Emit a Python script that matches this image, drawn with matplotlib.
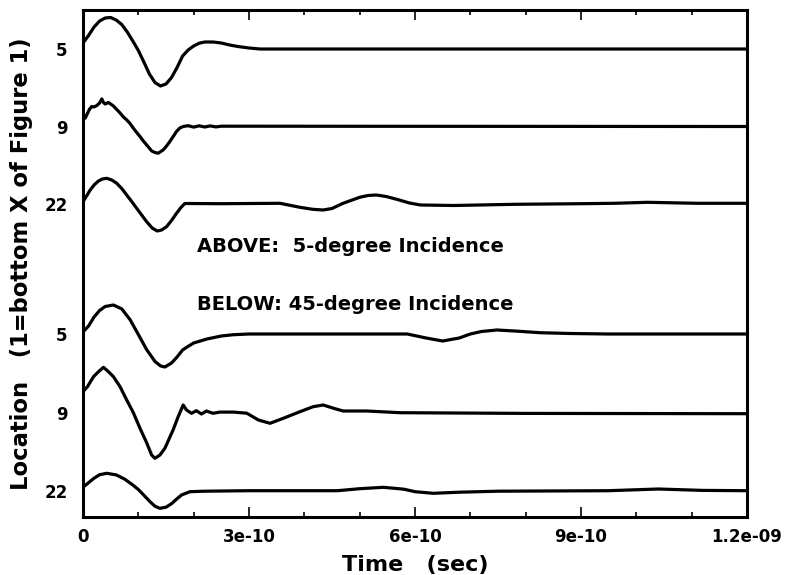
import matplotlib
matplotlib.use("Agg")
import matplotlib.pyplot as plt
from matplotlib.ticker import FixedLocator, MultipleLocator
import numpy as np

plt.rcParams['font.family'] = ['DejaVu Sans']
plt.rcParams['font.weight'] = 'bold'

# time axis unit: 1e-10 s
T_UNIT = 1e-10

# y tick labels (location numbers) and their vertical baselines (top to bottom)
loc_labels = ["5", "9", "22", "5", "9", "22"]
baselines = [468.0, 390.5, 313.0, 183.0, 104.3, 26.3]

# Trace 1: location 5, 5-degree incidence
t1 = [0.0, 0.1, 0.2, 0.3, 0.4, 0.5, 0.6, 0.7, 0.8, 0.9, 1.0, 1.1, 1.2, 1.3, 1.4,
      1.5, 1.6, 1.7, 1.8, 1.9, 2.0, 2.1, 2.2, 2.35, 2.5, 2.65, 2.8, 3.0, 3.2, 12.0]
v1 = [6.0, 13.5, 22.0, 28.0, 31.0, 31.5, 29.0, 24.5, 17.0, 8.0, -1.5, -13.0, -25.0,
      -33.5, -37.0, -35.0, -28.5, -18.5, -7.0, -1.0, 3.0, 5.8, 7.0, 7.0, 6.0, 4.0,
      2.5, 1.0, 0.0, 0.0]

# Trace 2: location 9, 5-degree incidence
t2 = [0.0, 0.04, 0.08, 0.12, 0.16, 0.2, 0.25, 0.3, 0.34, 0.37, 0.4, 0.46, 0.55,
      0.61, 0.67, 0.73, 0.79, 0.85, 0.91, 0.97, 1.03, 1.09, 1.15, 1.24, 1.3, 1.36,
      1.45, 1.51, 1.57, 1.63, 1.69, 1.75, 1.81, 1.9, 2.0, 2.1, 2.2, 2.3, 2.4, 2.5,
      12.0]
v2 = [11.6, 8.3, 13.0, 17.5, 20.0, 19.5, 21.0, 23.5, 27.6, 24.0, 22.5, 24.0, 20.5,
      17.0, 13.5, 9.5, 6.6, 3.0, -1.7, -6.0, -10.0, -14.5, -18.4, -24.4, -26.0,
      -26.7, -23.4, -19.5, -15.0, -10.0, -5.0, -1.5, 0.0, 0.8, -0.6, 0.7, -0.5,
      0.6, -0.4, 0.3, 0.0]

# Trace 3: location 22, 5-degree incidence
t3 = [0.0, 0.07, 0.13, 0.2, 0.28, 0.35, 0.43, 0.52, 0.61, 0.7, 0.79, 0.88, 0.97,
      1.06, 1.15, 1.25, 1.34, 1.42, 1.51, 1.6, 1.69, 1.77, 1.84, 2.5, 3.56, 3.92,
      4.15, 4.34, 4.5, 4.7, 5.0, 5.15, 5.3, 5.48, 5.67, 5.9, 6.1, 6.7, 7.8, 9.0,
      9.6, 10.2, 11.1, 12.0]
v3 = [2.3, 8.5, 14.0, 19.0, 23.0, 25.0, 25.7, 24.0, 20.7, 15.5, 9.0, 2.5, -4.3,
      -11.0, -17.7, -24.0, -27.0, -26.0, -22.7, -16.5, -9.3, -3.5, 0.5, 0.3, 0.7,
      -3.3, -5.3, -6.0, -4.5, 0.7, 6.7, 8.5, 9.0, 7.5, 4.7, 1.0, -1.0, -1.5, -0.3,
      0.3, 0.7, 1.7, 0.7, 0.7]

# Trace 4: location 5, 45-degree incidence
t4 = [0.0, 0.1, 0.2, 0.3, 0.4, 0.55, 0.7, 0.85, 1.0, 1.15, 1.3, 1.4, 1.48, 1.6,
      1.7, 1.8, 1.87, 2.0, 2.24, 2.5, 2.72, 3.0, 5.86, 6.2, 6.5, 6.8, 7.0, 7.2,
      7.48, 7.8, 8.26, 8.8, 9.5, 12.0]
v4 = [2.0, 8.0, 17.0, 23.5, 27.5, 29.0, 25.1, 14.4, -0.5, -15.6, -27.4, -31.9,
      -33.0, -29.0, -23.0, -16.0, -13.4, -9.0, -5.0, -2.0, -0.7, 0.0, 0.0, -4.0,
      -7.0, -4.0, 0.0, 2.5, 4.0, 3.0, 1.3, 0.5, 0.0, 0.0]

# Trace 5: location 9, 45-degree incidence
t5 = [0.0, 0.08, 0.19, 0.28, 0.37, 0.46, 0.55, 0.67, 0.79, 0.91, 1.03, 1.15, 1.24,
      1.3, 1.39, 1.48, 1.63, 1.72, 1.81, 1.87, 1.96, 2.05, 2.14, 2.23, 2.35, 2.47,
      2.72, 2.96, 3.17, 3.38, 3.62, 3.92, 4.16, 4.34, 4.53, 4.7, 5.13, 5.73, 8.0,
      12.0]
v5 = [21.0, 26.0, 36.0, 41.0, 45.4, 41.0, 36.0, 26.0, 12.7, 0.0, -15.6, -30.0,
      -42.3, -45.6, -42.3, -35.6, -17.0, -4.0, 7.7, 2.7, -0.6, 2.0, -1.3, 1.7,
      -0.6, 0.6, 0.6, -0.5, -7.3, -10.6, -5.6, 1.0, 6.0, 7.7, 4.4, 1.7, 1.7, 0.0,
      -0.7, -1.0]

# Trace 6: location 22, 45-degree incidence
t6 = [0.0, 0.1, 0.2, 0.3, 0.43, 0.6, 0.75, 0.9, 1.0, 1.1, 1.2, 1.3, 1.39, 1.5, 1.6,
      1.7, 1.78, 1.93, 2.2, 3.0, 4.6, 5.0, 5.43, 5.8, 6.0, 6.33, 6.8, 7.5, 9.5,
      10.4, 11.2, 12.0]
v6 = [3.4, 8.0, 12.5, 16.0, 17.4, 15.8, 11.7, 5.7, 1.2, -4.5, -10.4, -15.5, -17.6,
      -16.5, -13.0, -8.0, -4.3, -1.0, -0.5, 0.0, 0.0, 2.0, 3.4, 1.5, -1.0, -2.6,
      -1.5, -0.5, 0.0, 1.7, 0.3, 0.0]

traces = [(t1, v1), (t2, v2), (t3, v3), (t4, v4), (t5, v5), (t6, v6)]

xtick_vals = [0, 3e-10, 6e-10, 9e-10, 1.2e-9]
xtick_labels = ["0", "3e-10", "6e-10", "9e-10", "1.2e-09"]

fig = plt.figure(figsize=(7.92, 5.75), dpi=100)
ax = fig.add_axes([83 / 792, 1 - 517 / 575, 664 / 792, 507 / 575])

for (t, v), base in zip(traces, baselines):
    tt = np.array(t) * T_UNIT
    yy = np.array(v) + base
    ax.plot(tt, yy, color="black", lw=2.3, solid_joinstyle="round")

ax.set_xlim(0, 1.2e-9)
ax.set_ylim(0, 507)

ax.xaxis.set_major_locator(FixedLocator(xtick_vals))
ax.set_xticklabels(xtick_labels, fontsize=12, fontweight="bold")
ax.xaxis.set_minor_locator(MultipleLocator(1e-10))
ax.tick_params(axis="x", which="both", direction="in", top=True, bottom=True,
               width=1.2, pad=8)
ax.tick_params(axis="x", which="major", length=7.5)
ax.tick_params(axis="x", which="minor", length=3.8)

ax.set_yticks(baselines)
ax.set_yticklabels(loc_labels, fontsize=12, fontweight="bold")
ax.tick_params(axis="y", which="both", length=0, pad=11)

for s in ax.spines.values():
    s.set_linewidth(2.2)

ax.set_xlabel("Time   (sec)", fontsize=16, fontweight="bold", labelpad=6.5)
ax.set_ylabel("Location   (1=bottom X of Figure 1)", fontsize=16.3,
              fontweight="bold", labelpad=8)

ax.text(0.1717, 0.533, "ABOVE:  5-degree Incidence", transform=ax.transAxes,
        fontsize=14, fontweight="bold", ha="left", va="center")
ax.text(0.1717, 0.420, "BELOW: 45-degree Incidence", transform=ax.transAxes,
        fontsize=14, fontweight="bold", ha="left", va="center")

fig.savefig("out.png", dpi=100)
